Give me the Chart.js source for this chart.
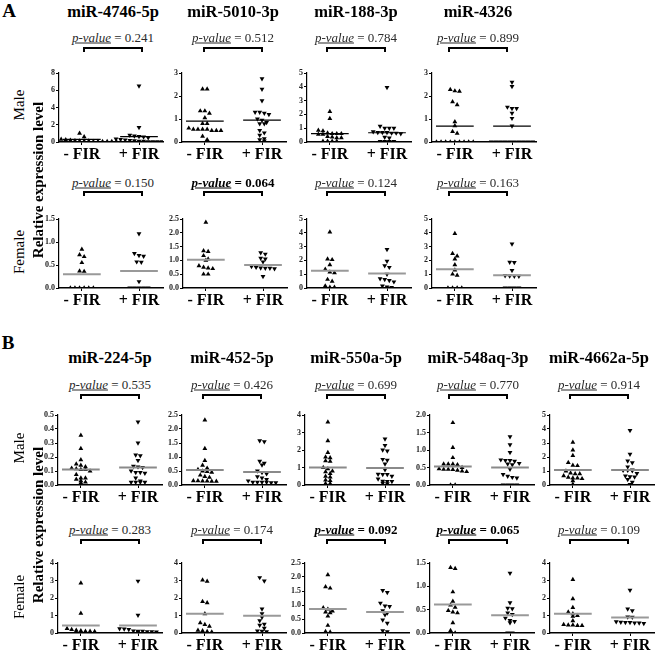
<!DOCTYPE html>
<html>
<head>
<meta charset="utf-8">
<script src="https://cdn.jsdelivr.net/npm/chart.js@4.4.1/dist/chart.umd.min.js"></script>
<style>
  body { margin: 0; background: #fff; }
  #fig { position: relative; width: 655px; height: 651px; overflow: hidden; font-family: "Liberation Serif", "Times New Roman", serif; color: #000; }
  .t { position: absolute; white-space: nowrap; transform: translate(-50%, -50%); line-height: 1; }
  .rot { transform: translate(-50%, -50%) rotate(-90deg); }
  .lbl { font-weight: bold; font-size: 19px; }
  .title { font-weight: bold; font-size: 16.5px; }
  .side { font-size: 15px; }
  .side.b { font-weight: bold; }
  .pv { font-size: 13px; color: #2a2a2a; }
  .pv i { text-decoration: underline; }
  .pv.sig { font-weight: bold; color: #000; }
  .br { position: absolute; width: 56px; height: 3px; border: 2px solid #000; border-bottom: none; }
  canvas { position: absolute; }
</style>
</head>
<body>
<div id="fig"></div>
<script>
// ---- panel A ----
const A_titles = ['miR-4746-5p', 'miR-5010-3p', 'miR-188-3p', 'miR-4326'];
const A_male_p = ['0.241', '0.512', '0.784', '0.899'];
const A_male_sig = [false, false, false, false];
const A_female_p = ['0.150', '0.064', '0.124', '0.163'];
const A_female_sig = [false, true, false, false];

const A_male_max = [8, 3, 5, 3];
const A_male_step = [2, 1, 1, 1];
const A_female_max = [1.5, 2.5, 5, 5];
const A_female_step = [0.5, 0.5, 1, 1];

const A_male_minus = [
  [1.0, 0.6, 0.45, 0.35, 0.3, 0.3, 0.25, 0.2, 0.15, 0.1, 0.1, 0.1, 0.05, 0.05, 0.05, 0.05, 0.05, 0.05],
  [2.3, 2.3, 1.35, 1.35, 1.25, 1.05, 0.8, 0.8, 0.6, 0.55, 0.55, 0.55, 0.55, 0.5, 0.5, 0.5, 0.25, 0.1],
  [2.2, 1.7, 0.85, 0.8, 0.65, 0.6, 0.6, 0.6, 0.55, 0.55, 0.4, 0.35, 0.3, 0.3, 0.05, 0.05, 0.05, 0.05],
  [2.28, 2.22, 2.2, 1.75, 1.62, 0.88, 0.7, 0.45, 0.38, 0, 0, 0, 0, 0, 0, 0, 0, 0]
];
const A_male_plus = [
  [6.5, 1.7, 0.8, 0.7, 0.65, 0.6, 0.5, 0.35, 0.3, 0.25, 0.2, 0.15, 0.1, 0.1, 0.05, 0.05, 0.05, 0.05],
  [2.75, 2.3, 1.8, 1.3, 1.3, 1.25, 1.2, 1.0, 0.95, 0.85, 0.8, 0.8, 0.5, 0.4, 0.3, 0.15, 0.1, 0.05],
  [3.95, 1.15, 1.0, 1.0, 1.0, 0.75, 0.7, 0.7, 0.7, 0.65, 0.65, 0.6, 0.35, 0.3, 0.05, 0.05, 0.05, 0.05],
  [2.6, 2.42, 1.52, 1.46, 1.46, 1.25, 1.03, 0.7, 0, 0, 0, 0, 0, 0, 0, 0, 0, 0]
];
const A_male_lines = [[0.3, 0.62], [0.91, 0.95], [0.6, 0.67], [0.69, 0.69]];

const A_female_minus = [
  [0.84, 0.72, 0.68, 0.55, 0.37, 0.36, 0, 0, 0, 0, 0, 0],
  [2.38, 1.35, 1.32, 1.17, 1.05, 1.0, 0.8, 0.75, 0.72, 0.7, 0.5, 0.5],
  [4.05, 2.1, 2.05, 1.68, 1.35, 1.15, 1.1, 0.62, 0.48, 0.15, 0.05, 0.05],
  [3.95, 2.5, 2.32, 2.1, 1.68, 1.3, 1.0, 0.92, 0, 0, 0, 0]
];
const A_female_plus = [
  [1.18, 0.75, 0.71, 0.69, 0.57, 0.56, 0.14, 0, 0, 0, 0, 0],
  [1.28, 1.23, 1.08, 1.05, 0.95, 0.78, 0.75, 0.73, 0.72, 0.72, 0.7, 0.42],
  [2.8, 1.95, 1.62, 1.5, 1.0, 0.68, 0.62, 0.55, 0.45, 0.15, 0.08, 0.05],
  [3.2, 1.87, 1.85, 1.28, 0.9, 0.88, 0.85, 0.85, 0, 0, 0, 0]
];
const A_female_lines = [[0.3, 0.37], [1.02, 0.83], [1.25, 1.05], [1.35, 0.93]];

// ---- panel B ----
const B_titles = ['miR-224-5p', 'miR-452-5p', 'miR-550a-5p', 'miR-548aq-3p', 'miR-4662a-5p'];
const B_male_p = ['0.535', '0.426', '0.699', '0.770', '0.914'];
const B_male_sig = [false, false, false, false, false];
const B_female_p = ['0.283', '0.174', '0.092', '0.065', '0.109'];
const B_female_sig = [false, false, true, true, false];

const B_male_max = [0.5, 2.5, 4, 2.0, 5];
const B_male_step = [0.1, 0.5, 1, 0.5, 1];
const B_female_max = [4, 4, 2.5, 1.5, 4];
const B_female_step = [1, 1, 0.5, 0.5, 1];

const B_male_minus = [
  [0.355, 0.26, 0.18, 0.15, 0.14, 0.13, 0.12, 0.115, 0.11, 0.11, 0.1, 0.075, 0.05, 0.05, 0.04, 0.03, 0.02, 0.015],
  [2.32, 1.3, 0.87, 0.7, 0.6, 0.55, 0.5, 0.48, 0.45, 0.35, 0.3, 0.27, 0.15, 0.15, 0.14, 0.14, 0.13, 0.13],
  [3.6, 2.52, 1.85, 1.6, 1.55, 1.38, 1.35, 1.0, 0.92, 0.8, 0.75, 0.65, 0.5, 0.45, 0.28, 0.25, 0.08, 0.08],
  [1.78, 1.07, 0.78, 0.6, 0.6, 0.6, 0.58, 0.5, 0.46, 0.45, 0.45, 0.44, 0.42, 0.4, 0.38, 0, 0],
  [3.05, 2.5, 2.1, 1.6, 1.4, 1.38, 1.0, 0.85, 0.8, 0.8, 0.65, 0.55, 0.5, 0.5, 0.45, 0.3, 0.05]
];
const B_male_plus = [
  [0.45, 0.3, 0.215, 0.21, 0.175, 0.135, 0.13, 0.125, 0.1, 0.09, 0.09, 0.085, 0.05, 0.03, 0.02, 0.02, 0.02, 0.02],
  [1.58, 1.55, 0.85, 0.78, 0.72, 0.5, 0.45, 0.4, 0.3, 0.25, 0.2, 0.15, 0.1, 0.1, 0.1, 0.1, 0.08, 0.08],
  [2.63, 2.26, 2.0, 1.95, 1.47, 1.42, 1.2, 0.88, 0.62, 0.6, 0.6, 0.5, 0.35, 0.22, 0.2, 0.2, 0.1, 0.08],
  [1.38, 1.15, 0.93, 0.72, 0.7, 0.7, 0.68, 0.62, 0.6, 0.58, 0.45, 0.3, 0.25, 0.22, 0.2, 0, 0, 0, 0],
  [3.9, 2.2, 1.72, 1.6, 1.3, 1.08, 1.05, 1.05, 1.02, 0.82, 0.65, 0.6, 0.58, 0.4, 0.2, 0.05]
];
const B_male_lines = [[0.11, 0.125], [0.54, 0.46], [1.0, 0.97], [0.53, 0.5], [1.07, 1.07]];

const B_female_minus = [
  [2.85, 1.12, 0.25, 0.2, 0.15, 0.12, 0.1, 0.1, 0.08, 0.05, 0.05, 0.03],
  [3.02, 2.95, 1.8, 1.72, 1.1, 0.58, 0.48, 0.38, 0.15, 0.12, 0.08, 0.06],
  [2.08, 1.65, 1.6, 0.9, 0.85, 0.78, 0.75, 0.72, 0.6, 0.27, 0.05, 0.03],
  [1.4, 1.38, 0.88, 0.68, 0.6, 0.55, 0.48, 0.45, 0.43, 0.22, 0.05, 0],
  [3.05, 1.95, 1.45, 1.2, 1.1, 1.0, 0.95, 0.7, 0.48, 0.45, 0.45, 0.43, 0.42]
];
const B_female_plus = [
  [2.97, 1.02, 0.25, 0.23, 0.2, 0.12, 0.1, 0.1, 0.08, 0.08, 0.06, 0.05],
  [3.17, 2.98, 1.38, 1.1, 0.9, 0.7, 0.5, 0.45, 0.28, 0.12, 0.1, 0.08],
  [1.52, 1.45, 1.07, 0.97, 0.95, 0.8, 0.72, 0.65, 0.47, 0.35, 0.08, 0.05],
  [1.28, 0.65, 0.53, 0.52, 0.43, 0.4, 0.32, 0.27, 0.25, 0.22, 0, 0],
  [2.45, 1.38, 1.28, 0.92, 0.9, 0.65, 0.62, 0.6, 0.6, 0.58, 0.58, 0.55]
];
const B_female_lines = [[0.43, 0.43], [1.1, 0.98], [0.86, 0.75], [0.61, 0.38], [1.1, 0.89]];

const groups = ['- FIR', '+ FIR'];

// layout
const XMIN = 0.6, XMAX = 2.42, PW = 104, DX = 4.6, HALF = 0.33, PADL = 30;
const rows = [
  { ax: [59, 182, 307, 432], cx: [113, 233, 356, 478], top: 73, h: 69, pY: 37, bY: 47, titleY: 12, titles: A_titles,
    p: A_male_p, sig: A_male_sig, max: A_male_max, step: A_male_step, minus: A_male_minus, plus: A_male_plus, lines: A_male_lines, lc: '#000', lw: 1.2 },
  { ax: [59, 183, 307, 432], cx: [113, 233, 356, 478], top: 219, h: 69, pY: 182, bY: 191, titleY: null,
    p: A_female_p, sig: A_female_sig, max: A_female_max, step: A_female_step, minus: A_female_minus, plus: A_female_plus, lines: A_female_lines, lc: '#999', lw: 2 },
  { ax: [58, 182, 305, 430, 550], cx: [110, 232, 356, 478, 599], top: 415, h: 70, pY: 384, bY: 394, titleY: 358, titles: B_titles,
    p: B_male_p, sig: B_male_sig, max: B_male_max, step: B_male_step, minus: B_male_minus, plus: B_male_plus, lines: B_male_lines, lc: '#8a8a8a', lw: 2 },
  { ax: [58, 182, 305, 430, 550], cx: [110, 232, 356, 478, 599], top: 563, h: 70, pY: 529, bY: 539, titleY: null,
    p: B_female_p, sig: B_female_sig, max: B_female_max, step: B_female_step, minus: B_female_minus, plus: B_female_plus, lines: B_female_lines, lc: '#999', lw: 2 }
];

const fig = document.getElementById('fig');

function addText(html, x, y, cls) {
  const d = document.createElement('div');
  d.className = 't ' + cls;
  d.innerHTML = html;
  d.style.left = x + 'px';
  d.style.top = y + 'px';
  fig.appendChild(d);
}

// spread points of equal height sideways, row by row
function swarm(vals, cat, max, h) {
  const yp = h / max, xp = PW / (XMAX - XMIN);
  const sorted = [...vals].sort((a, b) => b - a);
  const bands = [];
  sorted.forEach(v => {
    const b = bands[bands.length - 1];
    if (b && (b[0] - v) * yp < 3.5) b.push(v); else bands.push([v]);
  });
  const pts = [];
  bands.forEach(b => b.forEach((v, i) => pts.push({ x: cat + (i - (b.length - 1) / 2) * DX / xp, y: v })));
  return pts;
}

function makePanel(r, i) {
  const cv = document.createElement('canvas');
  const W = PADL + PW + 6, H = 8 + r.h + 26;
  cv.width = W; cv.height = H;
  cv.style.left = (r.ax[i] - PADL) + 'px';
  cv.style.top = (r.top - 8) + 'px';
  fig.appendChild(cv);

  const max = r.max[i], step = r.step[i];
  const lineDs = (cat, m) => ({
    data: [{ x: cat - HALF, y: m }, { x: cat + HALF, y: m }],
    showLine: true, pointRadius: 0, borderColor: r.lc, borderWidth: r.lw
  });
  const ptDs = (vals, cat, rot) => ({
    data: swarm(vals, cat, max, r.h),
    pointStyle: 'triangle', pointRadius: 2.8, rotation: rot,
    backgroundColor: '#000', borderColor: '#000', borderWidth: 0
  });

  new Chart(cv.getContext('2d'), {
    type: 'scatter',
    data: {
      datasets: [
        lineDs(1, r.lines[i][0]),
        lineDs(2, r.lines[i][1]),
        ptDs(r.minus[i], 1, 0),
        ptDs(r.plus[i], 2, 180)
      ]
    },
    options: {
      responsive: false,
      animation: false,
      devicePixelRatio: 1,
      layout: { padding: { left: 0, right: 6, top: 8, bottom: 0 } },
      plugins: { legend: { display: false }, tooltip: { enabled: false } },
      scales: {
        x: {
          type: 'linear', min: XMIN, max: XMAX,
          afterBuildTicks: a => { a.ticks = [{ value: 1 }, { value: 2 }]; },
          afterFit: a => { a.height = 26; },
          border: { display: true, color: '#000', width: 1.5 },
          grid: { drawOnChartArea: false, drawTicks: true, tickLength: 3, color: '#000' },
          ticks: {
            autoSkip: false, maxRotation: 0, padding: 0, color: '#000',
            font: { family: 'Liberation Serif', size: 16, weight: 'bold' },
            callback: v => groups[Math.round(v) - 1]
          }
        },
        y: {
          min: 0, max: max,
          afterFit: a => { a.width = PADL; },
          border: { display: true, color: '#000', width: 1.2 },
          grid: { drawOnChartArea: false, drawTicks: true, tickLength: 3, color: '#000' },
          ticks: {
            stepSize: step, padding: 1, color: '#222',
            font: { family: 'Liberation Serif', size: 8, weight: 'bold' },
            callback: v => step < 1 ? v.toFixed(1) : String(Math.round(v))
          }
        }
      }
    }
  });

  // title, p-value and bracket above the panel
  if (r.titleY !== null) addText(r.titles[i], r.cx[i], r.titleY, 'title');
  addText('<i>p-value</i> = ' + r.p[i], r.cx[i], r.pY, 'pv' + (r.sig[i] ? ' sig' : ''));
  const br = document.createElement('div');
  br.className = 'br';
  br.style.left = (r.cx[i] - 30) + 'px';
  br.style.top = r.bY + 'px';
  fig.appendChild(br);
}

rows.forEach(r => r.ax.forEach((_, i) => makePanel(r, i)));

// side labels
addText('A', 9, 10, 'lbl');
addText('B', 8, 342, 'lbl');
addText('Male', 19, 105, 'side rot');
addText('Female', 19, 252, 'side rot');
addText('Relative expression level', 38, 180, 'side b rot');
addText('Male', 19, 448, 'side rot');
addText('Female', 19, 597, 'side rot');
addText('Relative expression level', 38, 525, 'side b rot');
</script>
</body>
</html>
